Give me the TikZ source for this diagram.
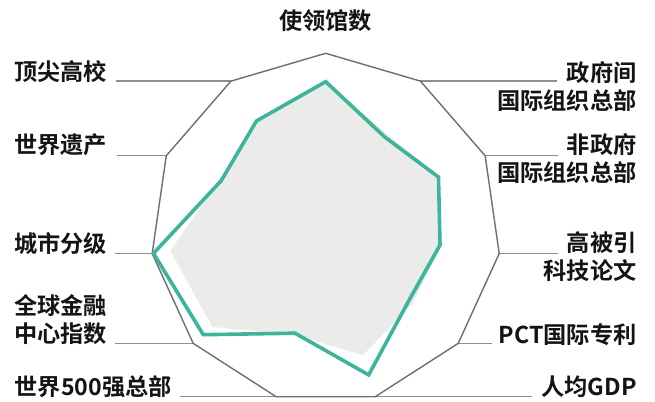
\documentclass[tikz,border=0pt]{standalone}
\usepackage{fontspec}
\setmainfont{Noto Sans CJK SC Bold}
\definecolor{rimgray}{HTML}{6E6D72}
\definecolor{leadgray}{HTML}{8E8E90}
\definecolor{citygreen}{HTML}{3DB49C}
\definecolor{areagray}{HTML}{EBEBE9}
\tikzset{
  rim/.style={draw=rimgray, line width=1.4bp},
  leader/.style={draw=leadgray, line width=1.4bp},
  cityline/.style={draw=citygreen, line width=3.6bp},
  lab/.style={font=\fontsize{23.2bp}{28bp}\selectfont, text=black!92, inner sep=0pt},
}

\begin{document}
\begin{tikzpicture}[x=1bp,y=1bp]
\useasboundingbox (0,0) rectangle (655,401);
\coordinate (o) at (325.7,172.4);

% rim of the 11 axes
\foreach \i in {0,...,10}
  \coordinate (v\i) at ([shift={(o)}]{90-\i*360/11}:175.3);
% average area and city line
\foreach \i/\r in {0/146,1/113,2/125,3/117,4/115,5/132,6/111,7/150,8/157,9/117,10/128}
  \coordinate (g\i) at ([shift={(o)}]{90-\i*360/11}:\r);
\foreach \i/\r in {0/146.9,1/109,2/124,3/115.5,4/110,5/152.5,6/109,7/162,8/174,9/115,10/128}
  \coordinate (c\i) at ([shift={(o)}]{90-\i*360/11}:\r);

\fill[areagray] (g0) -- (g1) -- (g2) -- (g3) -- (g4) -- (g5) -- (g6) -- (g7) -- (g8) -- (g9) -- (g10) -- cycle;

% labels (two-line ones sit on their last line)
\node[lab, anchor=base] (emb) at (325.5,371.5) {使领馆数};
\node[lab, anchor=base east, align=right] (igo) at (636.7,291.5) {政府间\\国际组织总部};
\node[lab, anchor=base east, align=right] (ngo) at (636.7,219.5) {非政府\\国际组织总部};
\node[lab, anchor=base east, align=right] (cite) at (636.7,121.5) {高被引\\科技论文};
\node[lab, anchor=base east] (pct) at (636.7,57.5) {PCT国际专利};
\node[lab, anchor=base east] (gdp) at (636.7,5.5) {人均GDP};
\node[lab, anchor=base east] (top500) at (172,5.5) {世界500强总部};
\node[lab, anchor=base east, align=left] (fin) at (107,58.5) {全球金融\\中心指数};
\node[lab, anchor=base east] (rank) at (107,148.5) {城市分级};
\node[lab, anchor=base east] (herit) at (107,248) {世界遗产};
\node[lab, anchor=base east] (univ) at (107,320.5) {顶尖高校};

% ends of the leader lines
\coordinate (e1) at (556.7,0);
\coordinate (e2) at (558,0);
\coordinate (e3) at (557.7,0);
\coordinate (e4) at (492,0);
\coordinate (e5) at (532,0);
\coordinate (e6) at (180,0);
\coordinate (e7) at (115,0);
\coordinate (e8) at (115,0);
\coordinate (e9) at (117,0);
\coordinate (e10) at (116,0);
\foreach \i in {1,...,10}
  \draw[leader] (v\i) -- (v\i -| e\i);

\draw[rim] (v0) -- (v1) -- (v2) -- (v3) -- (v4) -- (v5) -- (v6) -- (v7) -- (v8) -- (v9) -- (v10) -- cycle;
\draw[cityline] (c0) -- (c1) -- (c2) -- (c3) -- (c4) -- (c5) -- (c6) -- (c7) -- (c8) -- (c9) -- (c10) -- cycle;
\end{tikzpicture}
\end{document}
